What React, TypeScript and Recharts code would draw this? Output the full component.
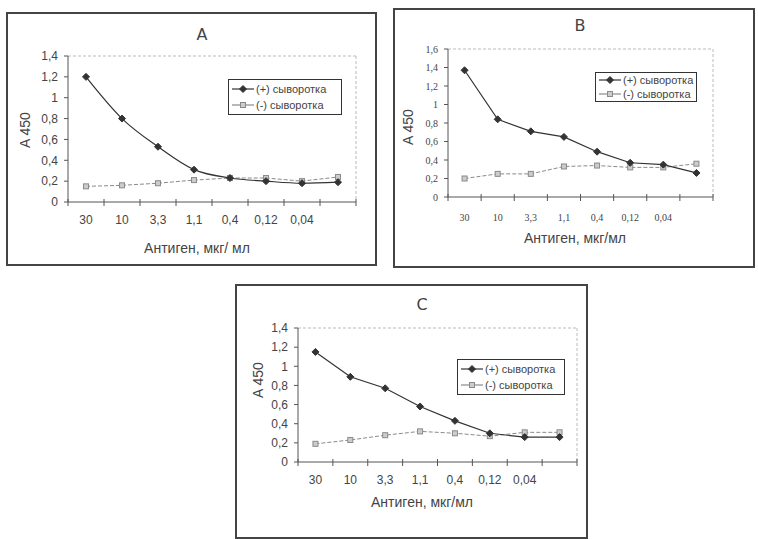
import React from "react";
import { LineChart, Line, XAxis, YAxis, ReferenceLine } from "recharts";

// antigen dilutions (last slot has no label on the originals)
const doses = ["30", "10", "3,3", "1,1", "0,4", "0,12", "0,04", ""];

const posA = [1.2, 0.8, 0.53, 0.31, 0.23, 0.2, 0.18, 0.19];
const negA = [0.15, 0.16, 0.18, 0.21, 0.23, 0.23, 0.2, 0.24];

const posB = [1.37, 0.84, 0.71, 0.65, 0.49, 0.37, 0.35, 0.26];
const negB = [0.2, 0.25, 0.25, 0.33, 0.34, 0.32, 0.32, 0.36];

const posC = [1.15, 0.89, 0.77, 0.58, 0.43, 0.3, 0.26, 0.26];
const negC = [0.19, 0.23, 0.28, 0.32, 0.3, 0.27, 0.31, 0.31];

const ticks14 = [0, 0.2, 0.4, 0.6, 0.8, 1, 1.2, 1.4];
const ticks16 = [0, 0.2, 0.4, 0.6, 0.8, 1, 1.2, 1.4, 1.6];

const posLabel = "(+) сыворотка";
const negLabel = "(-) сыворотка";

const DARK = "#333";
const LIGHT = "#8a8a8a";
const TEXT = "#444";

const fmt = (v: number) => String(v).replace(".", ",");

const Diamond = (props: any) => {
  const { cx, cy } = props;
  if (cx == null || cy == null) return null;
  const s = 3.5;
  return (
    <polygon
      points={`${cx},${cy - s} ${cx + s},${cy} ${cx},${cy + s} ${cx - s},${cy}`}
      fill={DARK}
      stroke={DARK}
    />
  );
};

const Square = (props: any) => {
  const { cx, cy } = props;
  if (cx == null || cy == null) return null;
  return <rect x={cx - 2.5} y={cy - 2.5} width={5} height={5} fill="#ccc" stroke={LIGHT} />;
};

function makeTick(half: number, fontFamily: string, fontSize: number, labelDy: number) {
  return (props: any) => {
    const { x, y, payload, index } = props;
    return (
      <g>
        <line x1={x - half} x2={x - half} y1={y - 3} y2={y + 4} stroke="#555" />
        {index === doses.length - 1 && (
          <line x1={x + half} x2={x + half} y1={y - 3} y2={y + 4} stroke="#555" />
        )}
        <text x={x} y={y + labelDy} textAnchor="middle" fill={TEXT} fontFamily={fontFamily} fontSize={fontSize}>
          {payload.value}
        </text>
      </g>
    );
  };
}

type PanelProps = {
  title: string;
  pos: number[];
  neg: number[];
  yTicks: number[];
  box: { x: number; y: number; w: number; h: number };
  plot: { l: number; r: number; t: number; b: number };
  titlePos: [number, number];
  yLabelPos: [number, number];
  xTitle: string;
  xTitlePos: [number, number];
  legend: { x: number; y: number; w: number; h: number };
  tickFont: string;
  tickSize: number;
  labelDy: number;
  smooth?: boolean;
};

function Panel(p: PanelProps) {
  const data = doses.map((d, i) => ({ dose: d, pos: p.pos[i], neg: p.neg[i] }));
  const plotW = p.box.w - p.plot.l - p.plot.r;
  const yMax = p.yTicks[p.yTicks.length - 1];
  const sans = "'Liberation Sans', Arial, sans-serif";
  return (
    <div style={{ position: "absolute", left: p.box.x, top: p.box.y, width: p.box.w, height: p.box.h, background: "#fff" }}>
      <LineChart
        width={p.box.w}
        height={p.box.h}
        data={data}
        margin={{ top: p.plot.t, right: p.plot.r - 1, bottom: 0, left: 0 }}
        style={{ position: "absolute", left: 0, top: 0 }}
      >
        <XAxis
          dataKey="dose"
          scale="band"
          interval={0}
          height={p.plot.b}
          tickSize={0}
          tickMargin={0}
          tickLine={false}
          axisLine={{ stroke: "#555" }}
          tick={makeTick(plotW / 16, p.tickFont, p.tickSize, p.labelDy)}
        />
        <YAxis
          domain={[0, yMax]}
          ticks={p.yTicks}
          interval={0}
          width={p.plot.l}
          tickSize={4}
          tickMargin={6}
          tickFormatter={fmt}
          axisLine={{ stroke: "#555" }}
          tickLine={{ stroke: "#555" }}
          tick={{ fill: TEXT, fontFamily: p.tickFont, fontSize: p.tickSize }}
        />
        <YAxis
          yAxisId="r"
          orientation="right"
          width={1}
          tick={false}
          tickLine={false}
          axisLine={{ stroke: "#bbb", strokeDasharray: "3 2" }}
        />
        <ReferenceLine y={yMax} stroke="#bbb" strokeDasharray="3 2" />
        <Line
          dataKey="neg"
          type="linear"
          stroke={LIGHT}
          strokeWidth={1}
          strokeDasharray="4 2"
          dot={<Square />}
          isAnimationActive={false}
        />
        <Line
          dataKey="pos"
          type={p.smooth ? "monotone" : "linear"}
          stroke={DARK}
          strokeWidth={1.2}
          dot={<Diamond />}
          isAnimationActive={false}
        />
      </LineChart>
      <div
        style={{
          position: "absolute",
          left: 0,
          top: 0,
          width: p.box.w,
          height: p.box.h,
          boxSizing: "border-box",
          border: "2px solid #444",
          pointerEvents: "none",
        }}
      />
      <div
        style={{
          position: "absolute",
          left: p.titlePos[0] - 20,
          top: p.titlePos[1] - 10,
          width: 40,
          textAlign: "center",
          fontFamily: "'DejaVu Sans', sans-serif",
          fontSize: 16,
          lineHeight: "20px",
          color: TEXT,
        }}
      >
        {p.title}
      </div>
      <div
        style={{
          position: "absolute",
          left: p.yLabelPos[0] - 30,
          top: p.yLabelPos[1] - 8,
          width: 60,
          textAlign: "center",
          transform: "rotate(-90deg)",
          fontFamily: sans,
          fontSize: 14,
          lineHeight: "16px",
          color: TEXT,
        }}
      >
        A 450
      </div>
      <div
        style={{
          position: "absolute",
          left: p.xTitlePos[0] - 100,
          top: p.xTitlePos[1] - 9,
          width: 200,
          textAlign: "center",
          fontFamily: sans,
          fontSize: 14,
          lineHeight: "18px",
          color: TEXT,
        }}
      >
        {p.xTitle}
      </div>
      <div
        style={{
          position: "absolute",
          left: p.legend.x,
          top: p.legend.y,
          width: p.legend.w,
          height: p.legend.h,
          boxSizing: "border-box",
          border: "1px solid #333",
          background: "#fff",
          display: "flex",
          flexDirection: "column",
          justifyContent: "space-evenly",
          paddingLeft: 3,
          fontFamily: sans,
          fontSize: 11,
          color: TEXT,
          whiteSpace: "nowrap",
          overflow: "hidden",
        }}
      >
        {[
          { label: posLabel, color: DARK, shape: "d" },
          { label: negLabel, color: LIGHT, shape: "s" },
        ].map((it) => (
          <div key={it.label} style={{ display: "flex", alignItems: "center", lineHeight: "12px" }}>
            <svg width={22} height={10} style={{ marginRight: 2, flexShrink: 0 }}>
              <line x1={0} x2={22} y1={5} y2={5} stroke={it.color} strokeWidth={1.2} />
              {it.shape === "d" ? <Diamond cx={11} cy={5} /> : <Square cx={11} cy={5} />}
            </svg>
            <span>{it.label}</span>
          </div>
        ))}
      </div>
    </div>
  );
}

export default function App() {
  return (
    <div style={{ position: "absolute", left: 0, top: 0, width: 758, height: 539, background: "#fff", overflow: "hidden" }}>
      <Panel
        title="A"
        pos={posA}
        neg={negA}
        yTicks={ticks14}
        box={{ x: 6, y: 12, w: 371, h: 254 }}
        plot={{ l: 62, r: 21, t: 44, b: 64 }}
        titlePos={[196, 23]}
        yLabelPos={[19, 118]}
        xTitle="Антиген, мкг/ мл"
        xTitlePos={[191, 236]}
        legend={{ x: 222, y: 67, w: 114, h: 36 }}
        tickFont="'Liberation Sans', Arial, sans-serif"
        tickSize={12}
        labelDy={22}
        smooth
      />
      <Panel
        title="B"
        pos={posB}
        neg={negB}
        yTicks={ticks16}
        box={{ x: 393, y: 8, w: 362, h: 260 }}
        plot={{ l: 55, r: 42, t: 41, b: 71 }}
        titlePos={[187, 18]}
        yLabelPos={[15, 119]}
        xTitle="Антиген, мкг/мл"
        xTitlePos={[182, 230]}
        legend={{ x: 202, y: 64, w: 102, h: 30 }}
        tickFont="'Liberation Serif', serif"
        tickSize={10}
        labelDy={24}
      />
      <Panel
        title="C"
        pos={posC}
        neg={negC}
        yTicks={ticks14}
        box={{ x: 235, y: 284, w: 353, h: 255 }}
        plot={{ l: 63, r: 11, t: 44, b: 77 }}
        titlePos={[187, 21]}
        yLabelPos={[23, 96]}
        xTitle="Антиген, мкг/мл"
        xTitlePos={[187, 218]}
        legend={{ x: 222, y: 75, w: 108, h: 36 }}
        tickFont="'Liberation Sans', Arial, sans-serif"
        tickSize={12}
        labelDy={22}
      />
    </div>
  );
}
